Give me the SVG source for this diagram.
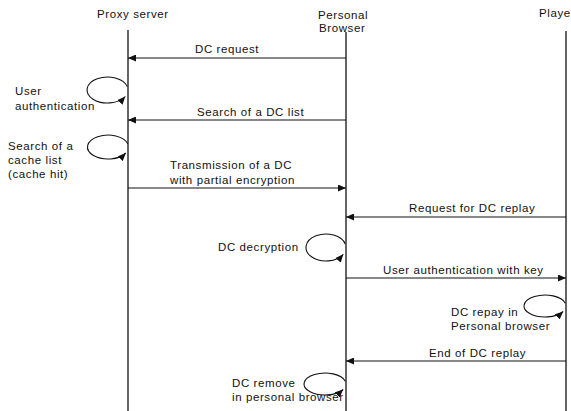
<svg xmlns="http://www.w3.org/2000/svg" width="571" height="411" viewBox="0 0 571 411">
<style>
text{font-family:"Liberation Sans",Arial,sans-serif;font-size:11.5px;letter-spacing:0.6px;fill:#111}
.life{stroke:#111;stroke-width:1.3;fill:none}
.msg{stroke:#111;stroke-width:1;fill:none;marker-end:url(#ah)}
.loop{stroke:#111;stroke-width:1.1;fill:none;marker-end:url(#ah)}
</style>
<defs>
<marker id="ah" markerUnits="userSpaceOnUse" markerWidth="9" markerHeight="7" refX="8" refY="3.5" orient="auto">
<path d="M0,0 L8,3.5 L0,7 z" fill="#111"/>
</marker>
</defs>
<rect width="571" height="411" fill="#fff"/>
<g id="proxy">
<text x="97" y="18">Proxy server</text>
<line class="life" x1="128" y1="30" x2="128" y2="411"/>
</g>
<g id="browser">
<text x="318" y="19">Personal</text>
<text x="319" y="32">Browser</text>
<line class="life" x1="346" y1="32" x2="346" y2="411"/>
</g>
<g id="player">
<text x="539" y="17">Playe</text>
<line class="life" x1="566" y1="31" x2="566" y2="411"/>
</g>
<g id="connectors">
<line class="msg" x1="346" y1="58" x2="128" y2="58"/>
<text x="195" y="53">DC request</text>
<line class="msg" x1="346" y1="120" x2="128" y2="120"/>
<text x="197" y="116">Search of a DC list</text>
<line class="msg" x1="128" y1="188" x2="346" y2="188"/>
<text x="170" y="169">Transmission of a DC</text>
<text x="170" y="184">with partial encryption</text>
<line class="msg" x1="566" y1="217" x2="346" y2="217"/>
<text x="409" y="212">Request for DC replay</text>
<line class="msg" x1="346" y1="278" x2="566" y2="278"/>
<text x="383" y="274">User authentication with key</text>
<line class="msg" x1="566" y1="361" x2="346" y2="361"/>
<text x="429" y="357">End of DC replay</text>
</g>
<g id="loop-user-auth">
<path class="loop" d="M127.3,86.6 A20.5,13 0 1 0 125.3,96.5"/>
<text x="15" y="95">User</text>
<text x="15" y="110">authentication</text>
</g>
<g id="loop-cache">
<path class="loop" d="M127.8,143.9 A20.5,12 0 1 0 125.8,153"/>
<text x="8" y="150">Search of a</text>
<text x="8" y="164">cache list</text>
<text x="8" y="178">(cache hit)</text>
</g>
<g id="loop-decrypt">
<path class="loop" d="M345.3,244 A20,13.5 0 1 0 343.3,254.3"/>
<text x="218" y="251">DC decryption</text>
</g>
<g id="loop-replay">
<path class="loop" d="M565.3,303.2 A21,11 0 1 0 563.2,311.5"/>
<text x="451" y="316">DC repay in</text>
<text x="451" y="330">Personal browser</text>
</g>
<g id="loop-remove">
<path class="loop" d="M345.3,381.2 A21,11 0 1 0 343.2,389.5"/>
<text x="232" y="387">DC remove</text>
<text x="232" y="401">in personal browser</text>
</g>
</svg>
